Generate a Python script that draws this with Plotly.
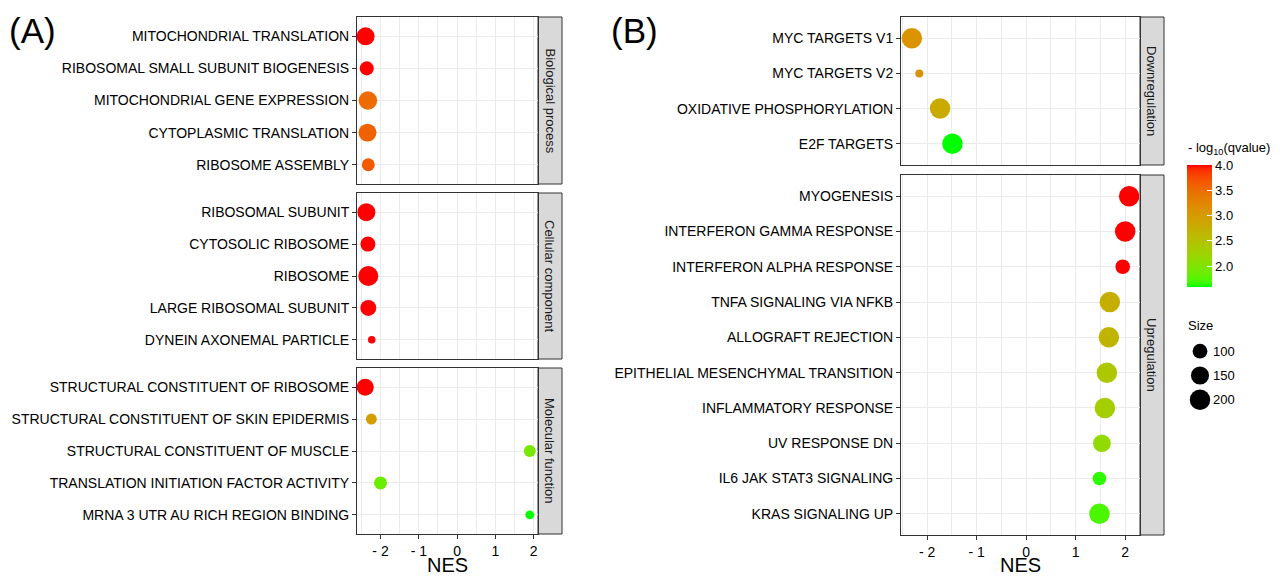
import numpy as np
import plotly.graph_objects as go

W, H = 1285, 577

# ---------------- Panel A data (GO) ----------------
A_facets = ["Biological process", "Cellular component", "Molecular function"]
A_terms = [
    ["MITOCHONDRIAL TRANSLATION", "RIBOSOMAL SMALL SUBUNIT BIOGENESIS", "MITOCHONDRIAL GENE EXPRESSION",
     "CYTOPLASMIC TRANSLATION", "RIBOSOME ASSEMBLY"],
    ["RIBOSOMAL SUBUNIT", "CYTOSOLIC RIBOSOME", "RIBOSOME", "LARGE RIBOSOMAL SUBUNIT",
     "DYNEIN AXONEMAL PARTICLE"],
    ["STRUCTURAL CONSTITUENT OF RIBOSOME", "STRUCTURAL CONSTITUENT OF SKIN EPIDERMIS",
     "STRUCTURAL CONSTITUENT OF MUSCLE", "TRANSLATION INITIATION FACTOR ACTIVITY",
     "MRNA 3 UTR AU RICH REGION BINDING"],
]
A_nes = [
    [-2.39, -2.36, -2.33, -2.34, -2.32],
    [-2.37, -2.33, -2.32, -2.32, -2.23],
    [-2.40, -2.24, 1.90, -2.00, 1.90],
]
A_q = [
    [4.0, 4.0, 3.55, 3.62, 3.68],
    [4.0, 4.0, 4.0, 4.0, 4.0],
    [4.0, 3.05, 2.12, 2.05, 1.80],
]
A_size = [
    [141, 70, 153, 141, 57],
    [141, 84, 190, 101, 25],
    [120, 38, 46, 57, 27],
]

# ---------------- Panel B data (Hallmark) ----------------
B_facets = ["Downregulation", "Upregulation"]
B_terms = [
    ["MYC TARGETS V1", "MYC TARGETS V2", "OXIDATIVE PHOSPHORYLATION", "E2F TARGETS"],
    ["MYOGENESIS", "INTERFERON GAMMA RESPONSE", "INTERFERON ALPHA RESPONSE", "TNFA SIGNALING VIA NFKB",
     "ALLOGRAFT REJECTION", "EPITHELIAL MESENCHYMAL TRANSITION", "INFLAMMATORY RESPONSE",
     "UV RESPONSE DN", "IL6 JAK STAT3 SIGNALING", "KRAS SIGNALING UP"],
]
B_nes = [
    [-2.31, -2.16, -1.74, -1.49],
    [2.08, 2.00, 1.95, 1.69, 1.67, 1.63, 1.59, 1.53, 1.48, 1.48],
]
B_q = [
    [3.08, 3.12, 2.8, 1.59],
    [4.0, 4.0, 4.0, 2.75, 2.68, 2.42, 2.32, 2.15, 1.65, 1.72],
]
B_size = [
    [200, 58, 200, 200],
    [200, 200, 97, 200, 200, 200, 200, 144, 87, 200],
]

col_ticks = [2.0, 2.5, 3.0, 3.5, 4.0]
size_ticks = [100, 150, 200]

# ---------------- colour scale (ggplot-like Lab interpolation green -> red) ----------------
def srgb_to_lab(rgb):
    c = np.array(rgb, float) / 255.0
    c = np.where(c > 0.04045, ((c + 0.055) / 1.055) ** 2.4, c / 12.92)
    M = np.array([[0.4124, 0.3576, 0.1805], [0.2126, 0.7152, 0.0722], [0.0193, 0.1192, 0.9505]])
    xyz = M @ c / np.array([0.95047, 1.0, 1.08883])
    f = np.where(xyz > 0.008856, np.cbrt(xyz), 7.787 * xyz + 16 / 116)
    return np.array([116 * f[1] - 16, 500 * (f[0] - f[1]), 200 * (f[1] - f[2])])

def lab_to_srgb(lab):
    L, a, b = lab
    fy = (L + 16) / 116
    fx = fy + a / 500
    fz = fy - b / 200
    f = np.array([fx, fy, fz])
    xyz = np.where(f ** 3 > 0.008856, f ** 3, (f - 16 / 116) / 7.787) * np.array([0.95047, 1.0, 1.08883])
    Minv = np.array([[3.2406, -1.5372, -0.4986], [-0.9689, 1.8758, 0.0415], [0.0557, -0.2040, 1.0570]])
    c = Minv @ xyz
    c = np.clip(c, 0, 1)
    c = np.where(c > 0.0031308, 1.055 * c ** (1 / 2.4) - 0.055, 12.92 * c)
    return tuple(int(round(v * 255)) for v in np.clip(c, 0, 1))

lo, hi = srgb_to_lab((0, 255, 0)), srgb_to_lab((255, 0, 0))
colorscale = []
for t in np.linspace(0, 1, 31):
    r, g, b = lab_to_srgb(lo + (hi - lo) * t)
    colorscale.append([float(t), f"rgb({r},{g},{b})"])

def size_px(counts, cmin, cmax, dmin, dmax):
    c = np.asarray(counts, float)
    return dmin + (dmax - dmin) * np.sqrt((c - cmin) / (cmax - cmin))

A_all_sizes = sum(A_size, [])
B_all_sizes = sum(B_size, [])
A_smin, A_smax = min(A_all_sizes), max(A_all_sizes)
B_smin, B_smax = min(B_all_sizes), max(B_all_sizes)
A_all_q, B_all_q = sum(A_q, []), sum(B_q, [])

def xrange_of(vals):
    mn, mx = min(vals), max(vals)
    sp = mx - mn
    return [mn - 0.05 * sp, mx + 0.05 * sp]

A_xr = xrange_of(sum(A_nes, []))
B_xr = xrange_of(sum(B_nes, []))

fig = go.Figure()

def px_x(p):
    return p / W

def px_y(p):
    return 1 - p / H

FONT = "Liberation Sans, Arial, sans-serif"
BORDER = "#333333"
GRID = "#EBEBEB"

panels = []
A_ydom = [(17, 184), (193, 359), (368, 534)]
for i in range(3):
    panels.append(dict(terms=A_terms[i], nes=A_nes[i], q=A_q[i], size=A_size[i], xd=(357, 538), yd=A_ydom[i],
                       facet=A_facets[i], ca="coloraxis2", smap=(A_smin, A_smax, 7.5, 20.0), xr=A_xr,
                       bottom=(i == 2), strip=(538, 562)))
B_ydom = [(17, 165), (175, 535)]
for i in range(2):
    panels.append(dict(terms=B_terms[i], nes=B_nes[i], q=B_q[i], size=B_size[i], xd=(901, 1140), yd=B_ydom[i],
                       facet=B_facets[i], ca="coloraxis", smap=(B_smin, B_smax, 8.0, 20.5), xr=B_xr,
                       bottom=(i == 1), strip=(1140, 1164)))

shapes = []
annotations = []
layout = {}
for k, p in enumerate(panels):
    idx = k + 1
    xa = "x" if idx == 1 else f"x{idx}"
    ya = "y" if idx == 1 else f"y{idx}"
    sz = size_px(p["size"], *p["smap"])
    fig.add_trace(go.Scatter(
        x=p["nes"], y=p["terms"], mode="markers", xaxis=xa, yaxis=ya, showlegend=False,
        marker=dict(size=sz, color=p["q"], coloraxis=p["ca"], line=dict(width=0), opacity=1),
        hovertemplate="%{y}<br>NES=%{x}<extra></extra>"))
    n = len(p["terms"])
    xkey = "xaxis" if idx == 1 else f"xaxis{idx}"
    ykey = "yaxis" if idx == 1 else f"yaxis{idx}"
    layout[xkey] = dict(
        domain=[px_x(p["xd"][0]), px_x(p["xd"][1])], anchor=ya, range=p["xr"],
        tickmode="array", tickvals=[-2, -1, 0, 1, 2], ticktext=["- 2", "- 1", "0", "1", "2"],
        showticklabels=p["bottom"], ticks="outside" if p["bottom"] else "", ticklen=4, tickcolor=BORDER,
        tickwidth=1, tickfont=dict(size=14, color="#000000", family=FONT),
        showgrid=True, gridcolor=GRID, gridwidth=1.2,
        minor=dict(tickmode="array", tickvals=[-2.5, -1.5, -0.5, 0.5, 1.5], showgrid=True,
                   gridcolor=GRID, gridwidth=0.8, ticks=""),
        showline=True, mirror=True, linecolor=BORDER, linewidth=1, zeroline=False, automargin=False,
    )
    layout[ykey] = dict(
        domain=[px_y(p["yd"][1]), px_y(p["yd"][0])], anchor=xa, type="category",
        categoryorder="array", categoryarray=p["terms"], range=[n - 0.4, -0.6],
        ticks="outside", ticklen=4, tickcolor=BORDER, tickwidth=1,
        tickfont=dict(size=14, color="#000000", family=FONT),
        showgrid=True, gridcolor=GRID, gridwidth=1.2,
        showline=True, mirror=True, linecolor=BORDER, linewidth=1, zeroline=False, automargin=False,
    )
    shapes.append(dict(type="rect", xref="paper", yref="paper",
                       x0=px_x(p["strip"][0]), x1=px_x(p["strip"][1]),
                       y0=px_y(p["yd"][1]), y1=px_y(p["yd"][0]),
                       fillcolor="#D9D9D9", line=dict(color=BORDER, width=1), layer="below"))
    annotations.append(dict(xref="paper", yref="paper", x=px_x((p["strip"][0] + p["strip"][1]) / 2),
                            y=px_y((p["yd"][0] + p["yd"][1]) / 2), text=p["facet"], textangle=90,
                            showarrow=False, font=dict(size=13, color="#1A1A1A", family=FONT),
                            xanchor="center", yanchor="middle"))
    if p["bottom"]:
        annotations.append(dict(xref="paper", yref="paper", x=px_x((p["xd"][0] + p["xd"][1]) / 2),
                                y=px_y(565), text="NES", showarrow=False, xanchor="center", yanchor="middle",
                                font=dict(size=20, color="#000000", family=FONT)))

# size legend built on its own small axis
fig.add_trace(go.Scatter(
    x=[0] * len(size_ticks), y=[str(s) for s in size_ticks], mode="markers", xaxis="x6", yaxis="y6",
    showlegend=False, hoverinfo="skip",
    marker=dict(size=size_px(size_ticks, B_smin, B_smax, 8.0, 20.5), color="#000000",
                line=dict(width=0), opacity=1)))
layout["xaxis6"] = dict(domain=[px_x(1188), px_x(1212)], anchor="y6", range=[-1, 1], visible=False)
layout["yaxis6"] = dict(domain=[px_y(412), px_y(339)], anchor="x6", type="category",
                        categoryorder="array", categoryarray=[str(s) for s in size_ticks],
                        range=[len(size_ticks) - 0.5, -0.5], side="right", showgrid=False, showline=False,
                        zeroline=False, ticks="", tickfont=dict(size=13, color="#000000", family=FONT),
                        automargin=False)

annotations += [
    dict(xref="paper", yref="paper", x=px_x(7), y=px_y(31), text="(A)", showarrow=False,
         xanchor="left", yanchor="middle", font=dict(size=35, color="#000000", family=FONT)),
    dict(xref="paper", yref="paper", x=px_x(609), y=px_y(31), text="(B)", showarrow=False,
         xanchor="left", yanchor="middle", font=dict(size=35, color="#000000", family=FONT)),
    dict(xref="paper", yref="paper", x=px_x(1186), y=px_y(148), text="- log<sub>10</sub>(qvalue)",
         showarrow=False, xanchor="left", yanchor="middle", font=dict(size=13, color="#000000", family=FONT)),
    dict(xref="paper", yref="paper", x=px_x(1186), y=px_y(325), text="Size",
         showarrow=False, xanchor="left", yanchor="middle", font=dict(size=13, color="#000000", family=FONT)),
]

layout["coloraxis"] = dict(
    colorscale=colorscale, cmin=min(B_all_q), cmax=max(B_all_q),
    colorbar=dict(x=px_x(1187), xanchor="left", xpad=0, y=px_y(165), yanchor="top", ypad=0,
                  len=(287 - 165) / H, lenmode="fraction", thickness=25, thicknessmode="pixels",
                  outlinewidth=0, tickmode="array", tickvals=col_ticks,
                  ticktext=[f"{v:.1f}" for v in col_ticks], ticks="inside", ticklen=5, tickcolor="#FFFFFF",
                  tickwidth=1, tickfont=dict(size=13, color="#000000", family=FONT)))
layout["coloraxis2"] = dict(colorscale=colorscale, cmin=min(A_all_q), cmax=max(A_all_q), showscale=False)

fig.update_layout(
    width=W, height=H, margin=dict(l=0, r=0, t=0, b=0), template="none",
    paper_bgcolor="#FFFFFF", plot_bgcolor="#FFFFFF", showlegend=False,
    shapes=shapes, annotations=annotations, font=dict(family=FONT, color="#000000"), **layout)

fig.write_html("out.html", config={"displayModeBar": False},
               post_script="document.body.style.margin='0';document.body.style.padding='0';"
                           "document.body.style.overflow='hidden';")
